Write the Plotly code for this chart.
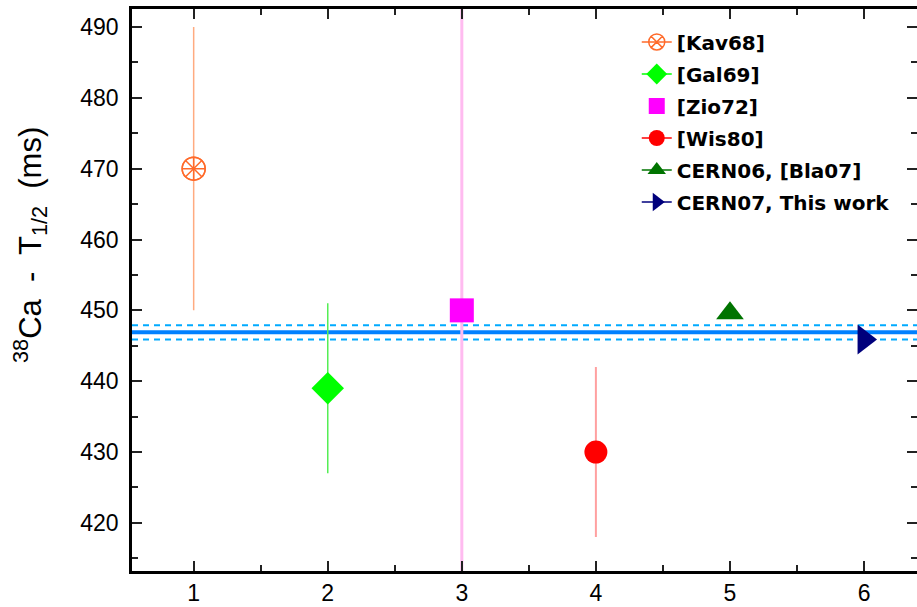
import plotly.graph_objects as go

# Data
labels = ["[Kav68]", "[Gal69]", "[Zio72]", "[Wis80]", "CERN06, [Bla07]", "CERN07, This work"]
xpos = [1, 2, 3, 4, 5, 6]
t_half = [470.0, 439.0, 450.0, 430.0, 449.6, 445.9]
t_err = [20.0, 12.0, 60.0, 12.0, 0.0, 0.0]
mean_val = 446.9
mean_err = 1.0

marker_symbols = ["circle-x-open", "diamond", "square", "circle", "triangle-up", "triangle-right"]
marker_sizes = [23, 25, 24, 23, 24, 26]
marker_colors = ["#ff6a2a", "#00ff00", "#ff00ff", "#ff0000", "#007400", "#00007c"]
err_colors = ["#ffab80", "#55ee55", "#ffbbf0", "#ffa0a0", "#007400", "#00007c"]
err_widths = [1.5, 1.5, 3, 2, 1, 1]
modes = ["lines+markers", "lines+markers", "markers", "lines+markers", "lines+markers", "lines+markers"]

fig = go.Figure()

# mean band lines
fig.add_hline(y=mean_val + mean_err, line=dict(color="#00aaff", width=2, dash="6px,5px"), layer="below")
fig.add_hline(y=mean_val - mean_err, line=dict(color="#00aaff", width=2, dash="6px,5px"), layer="below")
fig.add_hline(y=mean_val, line=dict(color="#0080ff", width=4), layer="below")

for i in range(len(labels)):
    fig.add_trace(go.Scatter(
        x=[xpos[i]], y=[t_half[i]], name=labels[i], mode=modes[i],
        legendgroup=labels[i],
        marker=dict(symbol=marker_symbols[i], size=marker_sizes[i], color=marker_colors[i],
                    line=dict(width=1.5 if i == 0 else 0, color=marker_colors[i])),
        line=dict(color=marker_colors[i], width=1.5),
        error_y=dict(type="data", array=[t_err[i]], visible=t_err[i] > 0,
                     color=err_colors[i], thickness=err_widths[i], width=0),
        cliponaxis=True,
    ))
    if i == 0:
        fig.add_trace(go.Scatter(
            x=[xpos[i]], y=[t_half[i]], mode="markers", showlegend=False,
            marker=dict(symbol="circle-cross-open", size=marker_sizes[i], color=marker_colors[i],
                        line=dict(width=1.5, color=marker_colors[i])),
        ))

tickfont = dict(family="Liberation Sans, Arial, sans-serif", size=23, color="#000")
y_range = [413.2, 492.55]

fig.update_layout(
    width=917, height=607,
    margin=dict(l=132, r=0, t=9, b=36),
    plot_bgcolor="white", paper_bgcolor="white",
    showlegend=True,
    legend=dict(x=0.643, y=0.976, xanchor="left", yanchor="top",
                font=dict(family="DejaVu Sans, sans-serif", size=20, color="#000", weight="bold"),
                bgcolor="rgba(0,0,0,0)", tracegroupgap=3, itemwidth=30),
    annotations=[dict(text="<sup>38</sup>Ca  -  T<sub>1/2</sub>  (ms)", textangle=-90,
                      xref="paper", yref="paper", x=-0.13, y=0.58,
                      xanchor="center", yanchor="middle", showarrow=False,
                      font=dict(family="Liberation Sans, Arial, sans-serif", size=31, color="#000"))],
    yaxis2=dict(overlaying="y", side="right", range=y_range, showline=False, showgrid=False,
                zeroline=False, showticklabels=False,
                ticks="inside", ticklen=10, tickwidth=2, tickcolor="#222", dtick=10, tick0=420,
                minor=dict(ticks="inside", ticklen=6, tickwidth=2, tickcolor="#222", dtick=5, showgrid=False)),
)
fig.update_xaxes(
    range=[0.54, 6.395], showgrid=False, zeroline=False,
    showline=True, linecolor="#000", linewidth=2.5, mirror="ticks",
    ticks="inside", ticklen=10, tickwidth=2, tickcolor="#222",
    tickmode="array", tickvals=xpos, ticktext=[str(v) for v in xpos],
    minor=dict(ticks="inside", ticklen=6, tickwidth=2, tickcolor="#222", dtick=0.5, showgrid=False),
    tickfont=tickfont,
)
fig.update_layout(yaxis=dict(
    range=y_range, showgrid=False, zeroline=False,
    showline=True, linecolor="#000", linewidth=2.5, mirror=False,
    ticks="inside", ticklen=10, tickwidth=2, tickcolor="#222",
    dtick=10, tick0=420,
    minor=dict(ticks="inside", ticklen=6, tickwidth=2, tickcolor="#222", dtick=5, showgrid=False),
    tickfont=tickfont, ticklabelstandoff=6,
))
# invisible trace to activate the right-side tick axis
fig.add_trace(go.Scatter(x=[xpos[0]], y=[t_half[0]], yaxis="y2", mode="markers",
                         marker=dict(opacity=0), showlegend=False, hoverinfo="skip"))

fig.write_html("out.html", config={"displayModeBar": False},
               post_script="document.body.style.margin='0';document.body.style.overflow='hidden';")
